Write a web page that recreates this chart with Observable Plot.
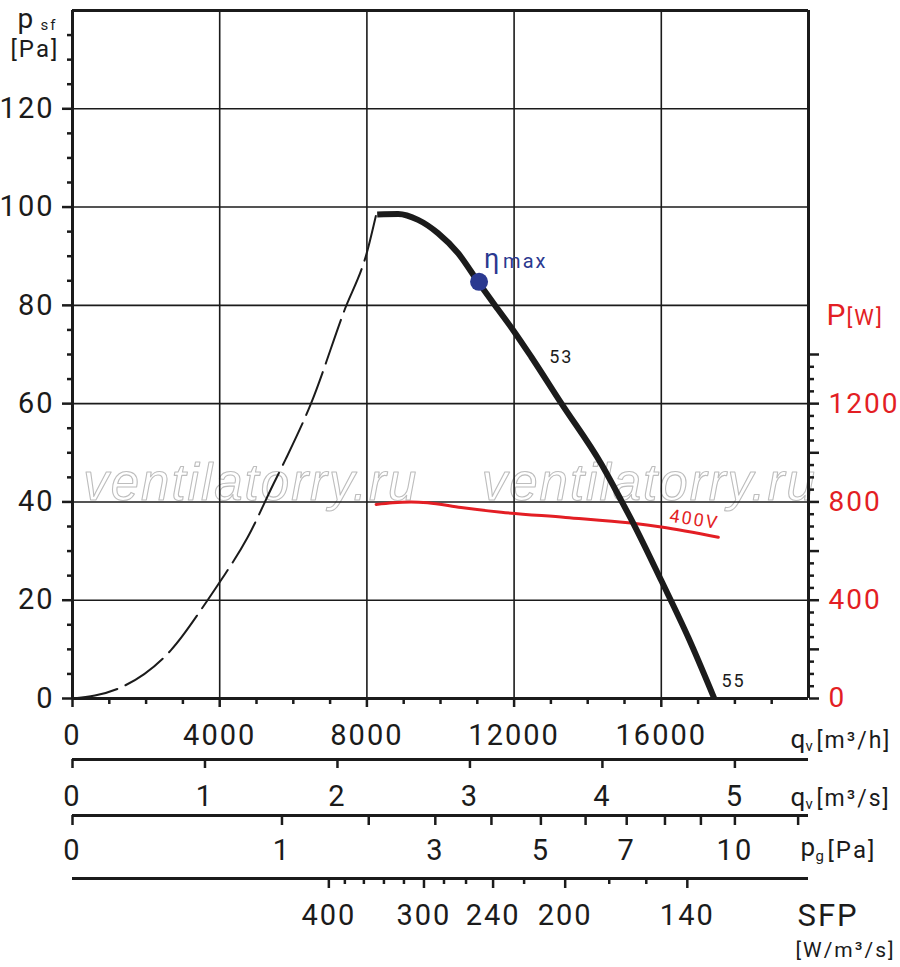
<!DOCTYPE html>
<html><head><meta charset="utf-8">
<script src="https://cdn.jsdelivr.net/npm/d3@7"></script>
<script src="https://cdn.jsdelivr.net/npm/@observablehq/plot@0.6"></script>
<style>
html,body{margin:0;padding:0;background:#fff}
#chart svg{display:block}
.chart text{letter-spacing:2px}
</style></head>
<body><div id="chart"></div>
<script>
// ---- data ----
// stall (unstable) part of the pressure curve, dashed
const stallQ = [0, 1300, 2670, 3670, 4030, 4760, 5470, 5800, 6480, 7380, 8020, 8250];
const stallP = [0, 2.2, 9.8, 20, 24, 32.8, 43.8, 48.8, 60.0, 78.8, 91.3, 98.4];
// working part of the pressure curve (solid)
const curveQ = [8280, 8850, 9390, 9930, 10480, 11020, 11560, 11970, 12460, 13280, 14370, 14910, 15270, 16000, 16740, 17440];
const curveP = [98.5, 98.6, 97.4, 94.7, 90.6, 84.8, 79.2, 75.0, 69.6, 60.1, 47.7, 40.3, 35.2, 24.0, 12.3, 0];
// power consumption, 400V
const powerQ = [8250, 8700, 9200, 9650, 10560, 11650, 13400, 15180, 16000, 17550];
const powerW = [790, 797, 800, 797, 777, 758, 737, 714, 698, 656];
// max efficiency point
const etaQ = [11048];
const etaP = [84.8];
// tick definitions
const qhLabels = [0, 4000, 8000, 12000, 16000];
const qsLabels = [0, 1, 2, 3, 4, 5];
const pgTicks = [0, 1, 2, 3, 4, 5, 6, 7, 8, 9, 10, 12];
const pgLabels = [0, 1, 3, 5, 7, 10];
const sfpTicks = [400, 380, 360, 340, 320, 300, 280, 260, 240, 220, 200, 180, 160, 140];
const sfpTickQ = [6966, 7401, 7918, 8463, 9007, 9551, 10095, 10694, 11429, 12272, 13388, 14585, 15592, 16707];
const sfpLabels = [400, 300, 240, 200, 140];
const psfLabels = [0, 20, 40, 60, 80, 100, 120];
const powerLabels = [0, 400, 800, 1200];

// ---- scale relations ----
const wPerPa = 20;          // right axis: 400 W per 20 Pa
const hPerS = 3600;         // m3/h per m3/s
const pgRefQ = 18000, pgRef = 10; // pg = 10 Pa at 18000 m3/h (pg ~ q^2)

const black = "#1b1b1b", red = "#e31e24", navy = "#2b3990";

const stall = stallQ.map((q, i) => ({q, p: stallP[i]}));
const curve = curveQ.map((q, i) => ({q, p: curveP[i]}));
const power = powerQ.map((q, i) => ({q, p: powerW[i] / wPerPa}));
const eta = etaQ.map((q, i) => ({q, p: etaP[i]}));
const pgQ = pg => pgRefQ * Math.sqrt(pg / pgRef);
const sfpQ = v => sfpTickQ[sfpTicks.indexOf(v)];

function at(X, Y) { return {frameAnchor: "top-left", dx: X - 72, dy: Y - 10}; }
const unitLabels = [
  ["p", 17, 27, 28, black], ["sf", 40, 29, 15, black], ["[Pa]", 10, 56, 24, black],
  ["P", 826, 324, 30, red], ["[W]", 846, 324, 22, red],
  ["q", 790, 747, 26, black], ["v", 805, 750, 15, black], ["[m³/h]", 816, 747, 23, black],
  ["q", 790, 805, 26, black], ["v", 805, 808, 15, black], ["[m³/s]", 816, 805, 23, black],
  ["p", 800, 855, 26, black], ["g", 815, 860, 15, black], ["[Pa]", 827, 857, 24, black],
  ["SFP", 797, 925, 31, black], ["[W/m³/s]", 795, 956, 21, black]
];

const chart = Plot.plot({
  width: 900, height: 967,
  marginLeft: 72, marginRight: 92, marginTop: 10, marginBottom: 269,
  className: "chart",
  style: {fontFamily: "Roboto, 'DejaVu Sans', sans-serif", background: "#fff", color: black, overflow: "visible"},
  x: {domain: [0, 20000], axis: null},
  y: {domain: [0, 140], axis: null},
  marks: [
    // watermark
    Plot.text([{q: 4844}, {q: 15673}], {x: "q", y: () => 40.3, text: () => "ventilatorry.ru",
      fontFamily: "'Liberation Sans', sans-serif", fontStyle: "italic", fontSize: 51,
      fill: "none", stroke: "#bdbdbd", strokeWidth: 1.1, lineAnchor: "bottom", textAnchor: "middle"}),
    // grid
    Plot.gridX([4000, 8000, 12000, 16000], {stroke: black, strokeOpacity: 1, strokeWidth: 1.6}),
    Plot.gridY([20, 40, 60, 80, 100, 120], {stroke: black, strokeOpacity: 1, strokeWidth: 1.6}),
    // frame
    Plot.ruleX([0, 20000], {stroke: black, strokeWidth: 3}),
    Plot.ruleY([0, 140], {stroke: black, strokeWidth: 3}),
    // left axis
    Plot.axisY(d3.range(5, 140, 5).filter(d => d % 20 !== 0), {anchor: "left", tickSize: 5, tickFormat: () => "", label: null, stroke: black, strokeWidth: 2.5}),
    Plot.axisY(psfLabels, {anchor: "left", tickSize: 10, tickPadding: 8, fontSize: 29, tickFormat: d => String(d), label: null, stroke: black, fill: black, strokeWidth: 2.5}),
    // right axis (power)
    Plot.axisY(d3.range(0, 1401, 50).filter(w => w % 200 !== 0).map(w => w / wPerPa), {anchor: "right", tickSize: 5, tickFormat: () => "", label: null, stroke: black, strokeWidth: 2.5}),
    Plot.axisY(d3.range(0, 1401, 200).filter(w => !powerLabels.includes(w)).map(w => w / wPerPa), {anchor: "right", tickSize: 10, tickFormat: () => "", label: null, stroke: black, strokeWidth: 2.5}),
    Plot.axisY(powerLabels.map(w => w / wPerPa), {anchor: "right", tickSize: 10, tickPadding: 10, fontSize: 28, tickFormat: d => String(Math.round(d * wPerPa)), label: null, stroke: black, fill: red, strokeWidth: 2.5}),
    // bottom axis q [m3/h]
    Plot.axisX(d3.range(1000, 20000, 1000).filter(d => d % 4000 !== 0), {anchor: "bottom", tickSize: 6, tickFormat: () => "", label: null, stroke: black, strokeWidth: 2.5}),
    Plot.axisX(qhLabels, {anchor: "bottom", tickSize: 9, tickPadding: 17, fontSize: 29, tickFormat: d => String(d), label: null, stroke: black, fill: black, strokeWidth: 2.5}),
    // q [m3/s]
    Plot.ruleY([0], {dy: 61, stroke: black, strokeWidth: 3}),
    Plot.axisX(qsLabels.map(s => s * hPerS), {anchor: "bottom", dy: 61, tickSize: 9, tickPadding: 17, fontSize: 29, tickFormat: d => String(Math.round(d / hPerS)), label: null, stroke: black, fill: black, strokeWidth: 2.5}),
    // pg [Pa]
    Plot.ruleY([0], {dy: 117, stroke: black, strokeWidth: 3}),
    Plot.axisX(pgTicks.filter(v => !pgLabels.includes(v)).map(pgQ), {anchor: "bottom", dy: 117, tickSize: 10, tickFormat: () => "", label: null, stroke: black, strokeWidth: 2.5}),
    Plot.axisX(pgLabels.map(pgQ), {anchor: "bottom", dy: 117, tickSize: 10, tickPadding: 14, fontSize: 29, tickFormat: (d, i) => String(pgLabels[i]), label: null, stroke: black, fill: black, strokeWidth: 2.5}),
    // SFP
    Plot.ruleY([0], {dy: 180, stroke: black, strokeWidth: 3}),
    Plot.axisX(sfpTicks.filter(v => !sfpLabels.includes(v)).map(sfpQ), {anchor: "bottom", dy: 180, tickSize: 6, tickFormat: () => "", label: null, stroke: black, strokeWidth: 2.5}),
    Plot.axisX(sfpLabels.map(sfpQ), {anchor: "bottom", dy: 180, tickSize: 10, tickPadding: 16, fontSize: 29, tickFormat: (d, i) => String(sfpLabels[i]), label: null, stroke: black, fill: black, strokeWidth: 2.5}),
    // curves
    Plot.line(stall, {x: "q", y: "p", stroke: black, strokeWidth: 2, strokeDasharray: "46,9", curve: "monotone-x"}),
    Plot.line(power, {x: "q", y: "p", stroke: red, strokeWidth: 3, curve: "monotone-x"}),
    Plot.line(curve, {x: "q", y: "p", stroke: black, strokeWidth: 6, strokeLinecap: "butt", curve: "monotone-x"}),
    Plot.dot(eta, {x: "q", y: "p", r: 9, fill: navy}),
    // annotations
    Plot.text(eta, {x: () => 11184, y: () => 87.6, text: () => "η", fill: navy, fontSize: 27, textAnchor: "start", lineAnchor: "bottom"}),
    Plot.text(eta, {x: () => 11701, y: () => 87.6, text: () => "max", fill: navy, fontSize: 20, textAnchor: "start", lineAnchor: "bottom"}),
    Plot.text([curve[9]], {x: () => 12952, y: () => 68.3, text: () => "53", fontSize: 18, textAnchor: "start", lineAnchor: "bottom", fill: black}),
    Plot.text([curve[curve.length - 1]], {x: () => 17633, y: () => 2.4, text: () => "55", fontSize: 18, textAnchor: "start", lineAnchor: "bottom", fill: black}),
    Plot.text([power[8]], {x: () => 16898, y: () => 36.4, text: () => "400V", fontSize: 18, rotate: 9, fill: red, textAnchor: "middle", lineAnchor: "middle"}),
    // unit labels
    ...unitLabels.map(([t, X, Y, s, c]) => Plot.text([t], {...at(X, Y), text: d => d, fontSize: s, fill: c, textAnchor: "start", lineAnchor: "bottom"}))
  ]
});
document.getElementById("chart").appendChild(chart);
</script>
</body></html>
